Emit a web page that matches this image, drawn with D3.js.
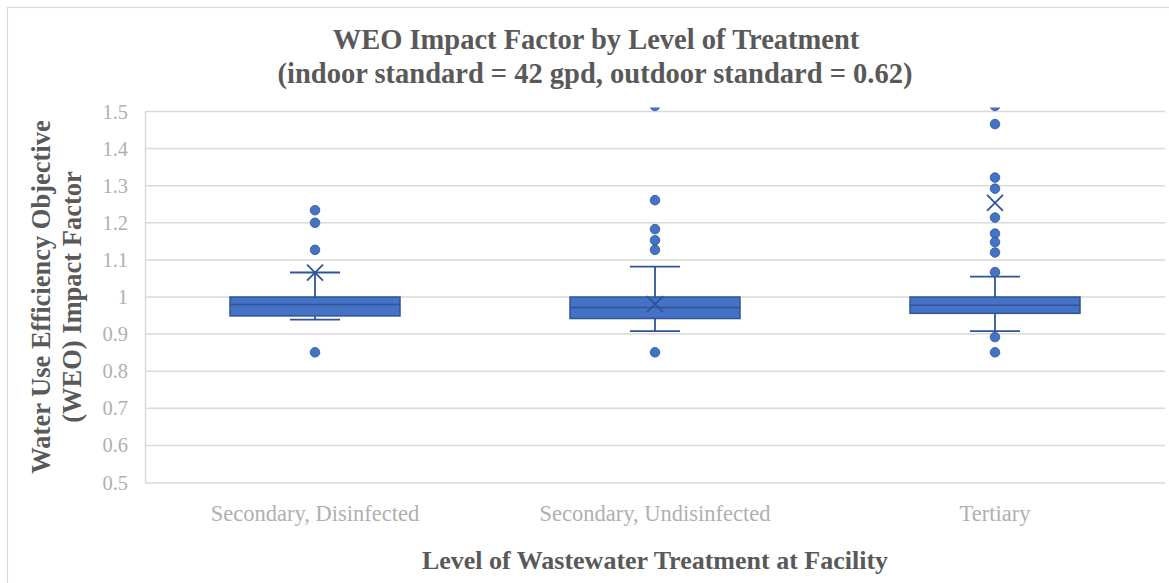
<!DOCTYPE html>
<html><head><meta charset="utf-8">
<script src="https://cdn.jsdelivr.net/npm/d3@7"></script>
<style>html,body{margin:0;padding:0;background:#fff;}svg{display:block;}</style>
</head><body>
<svg id="chart" width="1169" height="583"></svg>
<script>
const categories = ["Secondary, Disinfected", "Secondary, Undisinfected", "Tertiary"];
const q1 = [0.949, 0.942, 0.956];
const median = [0.980, 0.972, 0.978];
const q3 = [1.0, 1.0, 1.0];
const whiskerLow = [0.939, 0.908, 0.908];
const whiskerHigh = [1.066, 1.082, 1.055];
const means = [1.066, 0.981, 1.254];
const outliers = [
  [1.234, 1.200, 1.127, 0.851],
  [1.515, 1.261, 1.183, 1.153, 1.127, 0.851],
  [1.515, 1.466, 1.322, 1.292, 1.214, 1.171, 1.148, 1.120, 1.067, 0.892, 0.851]
];
const yTicks = [0.5, 0.6, 0.7, 0.8, 0.9, 1, 1.1, 1.2, 1.3, 1.4, 1.5];

const FONT = "'Liberation Serif', 'DejaVu Serif', serif";
const svg = d3.select("#chart");
const M = {left: 145, right: 1165, top: 111.5, bottom: 482.5};

svg.append("rect").attr("x", 7.5).attr("y", 7.5).attr("width", 1175).attr("height", 590)
  .attr("fill", "#fff").attr("stroke", "#d9d9d9").attr("stroke-width", 1.2);

const x = d3.scaleBand().domain(categories).range([M.left, M.right]).paddingInner(0).paddingOuter(0);
const y = d3.scaleLinear().domain([0.5, 1.5]).range([M.bottom, M.top]);

// gridlines
svg.append("g").selectAll("line").data(yTicks.slice(1)).join("line")
  .attr("x1", M.left).attr("x2", M.right)
  .attr("y1", d => y(d)).attr("y2", d => y(d))
  .attr("stroke", "#d9d9d9").attr("stroke-width", 1.5);

// y axis
const yAxis = svg.append("g").attr("transform", `translate(${M.left},0)`)
  .call(d3.axisLeft(y).tickValues(yTicks).tickFormat(d => d3.format("")(d)).tickSize(0).tickPadding(17));
yAxis.select(".domain").attr("stroke", "#d9d9d9").attr("stroke-width", 1.5);
yAxis.selectAll("text").attr("font-family", FONT).attr("font-size", 20.5).attr("fill", "#b0b0b0");

// x axis
const xAxis = svg.append("g").attr("transform", `translate(0,${M.bottom})`)
  .call(d3.axisBottom(x).tickSize(0).tickPadding(23));
xAxis.select(".domain").attr("stroke", "#d9d9d9").attr("stroke-width", 1.5);
xAxis.selectAll("text").attr("font-family", FONT).attr("font-size", 22.5).attr("fill", "#b0b0b0");

svg.append("clipPath").attr("id", "clip").append("rect")
  .attr("x", M.left).attr("y", M.top - 4).attr("width", M.right - M.left).attr("height", M.bottom - M.top + 4);

const fill = "#4472C4", stroke = "#2F5597";
const boxW = x.bandwidth() * 0.5, capW = 50;
const g = svg.append("g").attr("clip-path", "url(#clip)");

categories.forEach((c, i) => {
  const cx = x(c) + x.bandwidth() / 2;
  g.append("line").attr("x1", cx).attr("x2", cx).attr("y1", y(q3[i])).attr("y2", y(whiskerHigh[i]))
    .attr("stroke", stroke).attr("stroke-width", 1.8);
  g.append("line").attr("x1", cx).attr("x2", cx).attr("y1", y(q1[i])).attr("y2", y(whiskerLow[i]))
    .attr("stroke", stroke).attr("stroke-width", 1.8);
  [whiskerHigh[i], whiskerLow[i]].forEach(v => {
    g.append("line").attr("x1", cx - capW / 2).attr("x2", cx + capW / 2).attr("y1", y(v)).attr("y2", y(v))
      .attr("stroke", stroke).attr("stroke-width", 1.8);
  });
  g.append("rect").attr("x", cx - boxW / 2).attr("y", y(q3[i])).attr("width", boxW)
    .attr("height", y(q1[i]) - y(q3[i])).attr("fill", fill).attr("stroke", stroke).attr("stroke-width", 1.5);
  g.append("line").attr("x1", cx - boxW / 2).attr("x2", cx + boxW / 2).attr("y1", y(median[i])).attr("y2", y(median[i]))
    .attr("stroke", stroke).attr("stroke-width", 1.5);
  const my = y(means[i]), s = 8;
  g.append("path").attr("d", `M${cx - s},${my - s}L${cx + s},${my + s}M${cx - s},${my + s}L${cx + s},${my - s}`)
    .attr("stroke", stroke).attr("stroke-width", 1.8).attr("fill", "none");
  g.selectAll(null).data(outliers[i]).join("circle")
    .attr("cx", cx).attr("cy", d => y(d)).attr("r", 4.8)
    .attr("fill", fill).attr("stroke", stroke).attr("stroke-width", 0.8);
});

const title = svg.append("text").attr("font-family", FONT).attr("font-weight", "bold")
  .attr("font-size", 28.5).attr("fill", "#595959").attr("text-anchor", "middle");
title.append("tspan").attr("x", 596).attr("y", 48.5).text("WEO Impact Factor by Level of Treatment");
title.append("tspan").attr("x", 595).attr("y", 82.5).text("(indoor standard = 42 gpd, outdoor standard = 0.62)");

svg.append("text").attr("x", 655).attr("y", 569).attr("text-anchor", "middle")
  .attr("font-family", FONT).attr("font-weight", "bold").attr("font-size", 26).attr("fill", "#595959")
  .text("Level of Wastewater Treatment at Facility");

const yt = svg.append("text").attr("transform", "translate(0,297) rotate(-90)").attr("text-anchor", "middle")
  .attr("font-family", FONT).attr("font-weight", "bold").attr("font-size", 26.5).attr("fill", "#595959");
yt.append("tspan").attr("x", 0).attr("y", 50).text("Water Use Efficiency Objective");
yt.append("tspan").attr("x", 0).attr("y", 81).text("(WEO) Impact Factor");
</script>
</body></html>
